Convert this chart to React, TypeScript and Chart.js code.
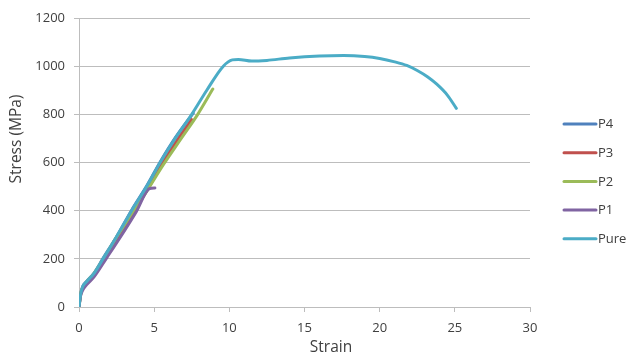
import { useEffect, useRef } from "react";
import { Chart, registerables } from "chart.js";

Chart.register(...registerables);

// ---- data ----
const pureStrain = [0, 0.1, 0.25, 0.5, 1, 1.6, 2.5, 3.5, 4.5, 5.4, 6.4, 7.5, 8.5, 9.6, 10.2, 10.6, 11.5, 12.5, 14, 16, 17.6, 19, 20, 21, 21.8, 22.5, 23.2, 23.8, 24.5, 25.1];
const pureStress = [0, 50, 85, 105, 140, 200, 292, 400, 500, 600, 700, 800, 900, 1000, 1026, 1028, 1021, 1024, 1034, 1042, 1044, 1040, 1032, 1018, 1003, 982, 955, 925, 880, 825];

const p1Strain = [0, 0.1, 0.25, 0.5, 1, 1.8, 2.8, 3.8, 4.7, 5.05];
const p1Stress = [0, 45, 70, 92, 125, 200, 295, 395, 492, 494];

const p2Strain = [0, 0.1, 0.25, 0.5, 1, 1.6, 2.5, 3.5, 4.5, 5.6, 6.8, 7.9, 8.9];
const p2Stress = [0, 50, 82, 104, 140, 198, 290, 385, 480, 590, 700, 800, 905];

const p3Strain = [0, 0.1, 0.25, 0.5, 1, 1.7, 2.6, 3.6, 4.6, 5.5, 6.5, 7.5];
const p3Stress = [0, 48, 80, 100, 135, 198, 288, 392, 492, 592, 690, 778];

const p4Strain = [0, 0.1, 0.25, 0.5, 1, 1.6, 2.5, 3.5, 4.5, 5.4, 6.4, 7.6];
const p4Stress = [0, 52, 86, 106, 141, 202, 292, 402, 502, 602, 702, 805];

const legendLabels = ["P4", "P3", "P2", "P1", "Pure"];
const legendColors = ["#4F81BD", "#C0504D", "#9BBB59", "#8064A2", "#4BACC6"];

const xTitle = "Strain";
const yTitle = "Stress (MPa)";

const FONT = '"Open Sans", "Liberation Sans", sans-serif';
const TEXT = "#404040";
const GRID = "#BDBDBD";

const pts = (xs: number[], ys: number[]) => xs.map((x, i) => ({ x, y: ys[i] }));

export default function App() {
  const ref = useRef<HTMLCanvasElement>(null);

  useEffect(() => {
    const overlay = {
      id: "overlay",
      afterDraw(chart: any) {
        const ctx = chart.ctx as CanvasRenderingContext2D;
        ctx.save();
        // legend
        ctx.font = `13px ${FONT}`;
        ctx.textBaseline = "middle";
        ctx.textAlign = "left";
        legendLabels.forEach((lab, i) => {
          const y = 124 + i * 28.7;
          ctx.strokeStyle = legendColors[i];
          ctx.lineWidth = 3;
          ctx.lineCap = "round";
          ctx.beginPath();
          ctx.moveTo(564, y);
          ctx.lineTo(596, y);
          ctx.stroke();
          ctx.fillStyle = TEXT;
          ctx.fillText(lab, 598, y + 0.5);
        });
        // axis titles
        ctx.font = `15.5px ${FONT}`;
        ctx.textAlign = "center";
        ctx.fillStyle = TEXT;
        ctx.fillText(xTitle, 331, 348);
        ctx.translate(17, 139);
        ctx.rotate(-Math.PI / 2);
        ctx.fillText(yTitle, 0, 0);
        ctx.restore();
      },
    };

    const ds = (label: string, data: any, color: string) => ({
      label,
      data,
      borderColor: color,
      backgroundColor: color,
      borderWidth: 3,
      pointRadius: 0,
      showLine: true,
      cubicInterpolationMode: "monotone" as const,
      borderCapStyle: "round" as const,
      borderJoinStyle: "round" as const,
    });

    const chart = new Chart(ref.current!, {
      type: "scatter",
      data: {
        datasets: [
          ds("Pure", pts(pureStrain, pureStress), "#4BACC6"),
          ds("P1", pts(p1Strain, p1Stress), "#8064A2"),
          ds("P2", pts(p2Strain, p2Stress), "#9BBB59"),
          ds("P3", pts(p3Strain, p3Stress), "#C0504D"),
          ds("P4", pts(p4Strain, p4Stress), "#4F81BD"),
        ],
      },
      options: {
        animation: false,
        responsive: false,
        layout: { padding: { top: 18, right: 98, left: 0, bottom: 0 } },
        plugins: { legend: { display: false }, tooltip: { enabled: false } },
        scales: {
          x: {
            type: "linear",
            min: 0,
            max: 30,
            ticks: {
              stepSize: 5,
              font: { family: FONT, size: 13 },
              color: TEXT,
              padding: 8,
              callback: (v: any) => String(v),
            },
            grid: { drawOnChartArea: false, tickLength: 5, color: GRID },
            border: { color: GRID },
            afterFit: (s: any) => {
              s.height = 52;
            },
          },
          y: {
            min: 0,
            max: 1200,
            ticks: {
              stepSize: 200,
              font: { family: FONT, size: 13 },
              color: TEXT,
              padding: 9,
              callback: (v: any) => String(v),
            },
            grid: { tickLength: 5, color: GRID },
            border: { color: GRID },
            afterFit: (s: any) => {
              s.width = 79;
            },
          },
        },
      },
      plugins: [overlay],
    });
    return () => chart.destroy();
  }, []);

  return (
    <div style={{ position: "absolute", left: 0, top: 0, width: 628, height: 359, background: "#fff" }}>
      <canvas ref={ref} width={628} height={359} style={{ display: "block" }} />
    </div>
  );
}
